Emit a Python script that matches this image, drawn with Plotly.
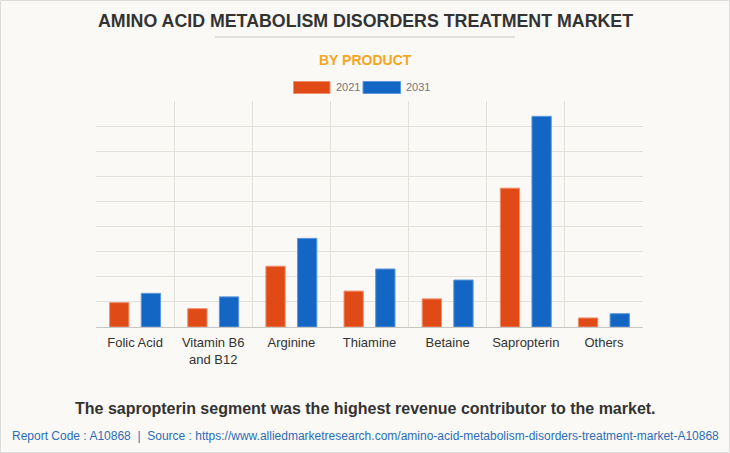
import plotly.graph_objects as go

categories = ["Folic Acid", "Vitamin B6<br>and B12", "Arginine", "Thiamine", "Betaine", "Sapropterin", "Others"]
values_2021 = [9.7, 7.3, 24.2, 14.3, 11.2, 55.3, 3.6]
values_2031 = [13.4, 12.0, 35.3, 23.1, 18.7, 83.9, 5.3]
series_names = ["2021", "2031"]

W, H = 730, 453
L, R, T, B = 96, 87, 101, 126
PW, PH = W - L - R, H - T - B

def px(x):
    return (x - L) / PW

def py(y):
    return 1 - (y - T) / PH

c21, c31 = "#E04A17", "#1366C4"
e21, e31 = "#F0906F", "#5E98DC"

fig = go.Figure()
fig.add_trace(go.Bar(x=categories, y=values_2021, name=series_names[0],
                     marker=dict(color=c21, line=dict(color=e21, width=1))))
fig.add_trace(go.Bar(x=categories, y=values_2031, name=series_names[1],
                     marker=dict(color=c31, line=dict(color=e31, width=1))))

font = "Liberation Sans, Arial, sans-serif"
fig.update_layout(
    width=W, height=H,
    margin=dict(l=L, r=R, t=T, b=B),
    paper_bgcolor="#FAF9F5", plot_bgcolor="#FAF9F5",
    barmode="group", bargap=0.19, bargroupgap=0.39,
    showlegend=False,
    font=dict(family=font, color="#333"),
    xaxis=dict(type="category", tickson="boundaries", ticks="", showgrid=True,
               gridcolor="#E2E0DA", gridwidth=1, showline=True, linecolor="#C8C6C0",
               tickfont=dict(size=13, color="#333"), ticklabelstandoff=3, fixedrange=True),
    yaxis=dict(range=[0, 90], dtick=10, showticklabels=False, showgrid=True,
               gridcolor="#E2E0DA", gridwidth=1, zeroline=False, fixedrange=True),
)

shapes = []
# outer frame
shapes.append(dict(type="rect", xref="paper", yref="paper",
                   x0=px(0.5), x1=px(729.5), y0=py(452.5), y1=py(0.5),
                   line=dict(color="#DDDDDD", width=1), fillcolor="rgba(0,0,0,0)"))
# title underline
shapes.append(dict(type="line", xref="paper", yref="paper",
                   x0=px(215), x1=px(515), y0=py(37), y1=py(37),
                   line=dict(color="#C8C8C8", width=1)))
# legend swatches
shapes.append(dict(type="rect", xref="paper", yref="paper",
                   x0=px(293.5), x1=px(330), y0=py(93.5), y1=py(81.5),
                   fillcolor=c21, line=dict(color=e21, width=1)))
shapes.append(dict(type="rect", xref="paper", yref="paper",
                   x0=px(363), x1=px(400.5), y0=py(93.5), y1=py(81.5),
                   fillcolor=c31, line=dict(color=e31, width=1)))
fig.update_layout(shapes=shapes)

def note(text, x, y, size, color, xanchor="center"):
    return dict(text=text, x=px(x), y=py(y), xref="paper", yref="paper",
                xanchor=xanchor, yanchor="middle", showarrow=False,
                font=dict(size=size, color=color, family=font))

ann = [
    note("<b>AMINO ACID METABOLISM DISORDERS TREATMENT MARKET</b>", 365, 21, 17.8, "#333333"),
    note("<b>BY PRODUCT</b>", 365, 59.5, 14, "#F5A623"),
    note(series_names[0], 333.5, 87.5, 11, "#777777", "left"),
    note(series_names[1], 403.5, 87.5, 11, "#777777", "left"),
    note("<b>The sapropterin segment was the highest revenue contributor to the market.</b>",
         365, 408, 16, "#333333"),
    note("Report Code : A10868  |  Source : https://www.alliedmarketresearch.com/amino-acid-metabolism-disorders-treatment-market-A10868",
         365, 436, 12, "#2B6DB8"),
]
fig.update_layout(annotations=ann)

fig.write_html("out.html")
